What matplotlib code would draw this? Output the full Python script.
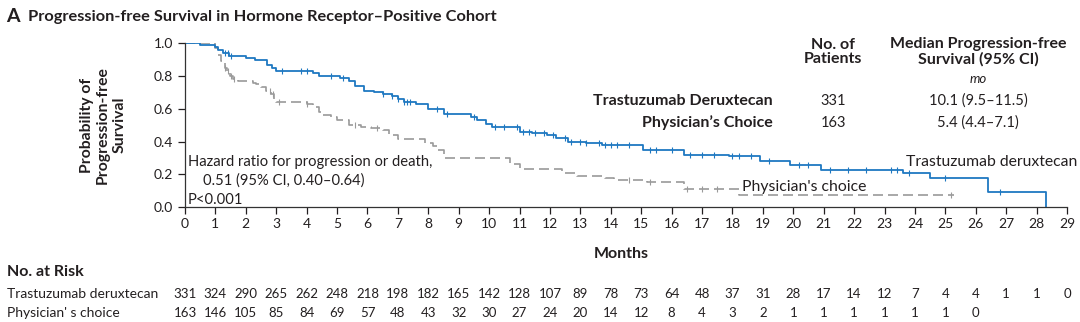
import numpy as np
import matplotlib
matplotlib.use("Agg")
import matplotlib.pyplot as plt
import matplotlib.transforms as mtransforms

plt.rcParams["font.family"] = ["Lato", "DejaVu Sans"]

# ─── Data ─────────────────────────────────────────────────────────────────────
months = np.arange(0, 30)

tdxd_t = [0, 0.5, 1.0, 1.1, 1.25, 1.45, 2.0, 2.3, 2.7, 2.85, 3.0, 4.2, 4.4, 5.1,
          5.4, 5.6, 5.9, 6.2, 6.5, 6.8, 7.0, 7.2, 7.6, 8.0, 8.5, 9.4, 9.6, 9.9,
          10.1, 11.0, 11.4, 11.9, 12.2, 12.6, 13.2, 13.7, 15.05, 16.4, 17.9,
          18.9, 19.9, 20.9, 23.6, 24.5, 26.4, 28.3]
tdxd_s = [1.0, 0.99, 0.98, 0.96, 0.94, 0.92, 0.91, 0.90, 0.87, 0.85, 0.83, 0.82,
          0.80, 0.79, 0.77, 0.74, 0.71, 0.70, 0.69, 0.68, 0.66, 0.64, 0.63, 0.60,
          0.57, 0.55, 0.53, 0.51, 0.49, 0.46, 0.45, 0.44, 0.42, 0.40, 0.39, 0.38,
          0.35, 0.32, 0.31, 0.28, 0.255, 0.227, 0.206, 0.176, 0.09, 0.0]
tdxd_cens = [1.3, 1.4, 1.5, 3.2, 3.8, 4.0, 4.8, 5.2, 6.5, 6.8, 7.0, 7.2, 7.3, 7.4,
             8.3, 8.6, 9.5, 10.2, 10.5, 10.9, 11.1, 11.3, 11.5, 11.8, 12.1, 12.5,
             12.7, 13.0, 13.2, 13.6, 13.8, 14.0, 14.2, 14.6, 15.3, 15.5, 16.0,
             16.6, 17.0, 17.4, 18.0, 18.2, 18.6, 19.2, 20.2, 20.5, 21.2, 21.8,
             22.4, 23.2, 23.4, 23.8, 25.0, 26.8]

pc_t = [0, 1.0, 1.1, 1.2, 1.3, 1.37, 1.48, 1.58, 1.74, 2.23, 2.35, 2.5, 2.67,
        2.84, 2.92, 3.0, 4.0, 4.2, 4.4, 4.5, 4.8, 5.0, 5.4, 5.8, 6.1, 6.5, 6.7,
        7.0, 7.9, 8.17, 8.3, 8.5, 10.7, 11.0, 12.4, 12.9, 13.8, 14.1, 15.2, 16.4,
        18.2, 25.3]
pc_s = [1.0, 0.97, 0.93, 0.89, 0.85, 0.83, 0.80, 0.78, 0.77, 0.76, 0.75, 0.73,
        0.71, 0.69, 0.66, 0.64, 0.63, 0.61, 0.58, 0.56, 0.55, 0.53, 0.50, 0.49,
        0.48, 0.47, 0.44, 0.415, 0.39, 0.37, 0.35, 0.30, 0.26, 0.23, 0.206, 0.19,
        0.18, 0.165, 0.15, 0.11, 0.074, 0.074]
pc_cens = [1.3, 1.4, 1.5, 1.6, 2.8, 2.9, 3.1, 4.0, 5.6, 6.3, 14.6, 15.3, 16.5,
           17.0, 17.5, 25.2]

risk_tdxd = [331, 324, 290, 265, 262, 248, 218, 198, 182, 165, 142, 128, 107, 89,
             78, 73, 64, 48, 37, 31, 28, 17, 14, 12, 7, 4, 4, 1, 1, 0]
risk_pc = [163, 146, 105, 85, 84, 69, 57, 48, 43, 32, 30, 27, 24, 20, 14, 12, 8,
           4, 3, 2, 1, 1, 1, 1, 1, 1, 0]

BLUE = "#1f78c1"
GRAY = "#9a9a9a"
TXT = "#231f20"
W, H = 1080, 322


def surv_at(t, times, surv):
    idx = np.searchsorted(times, t, side="right") - 1
    return np.asarray(surv)[idx]


def fx(px):
    return px / W


def fy(py):
    return 1 - py / H


# ─── Figure ───────────────────────────────────────────────────────────────────
fig = plt.figure(figsize=(W / 100, H / 100), dpi=100)
ax = fig.add_axes([fx(185), fy(207), fx(1067) - fx(185), fy(43.3) - fy(207)])

ax.step(pc_t, pc_s, where="post", color=GRAY, lw=1.2, dashes=(6, 3))
ax.step(tdxd_t, tdxd_s, where="post", color=BLUE, lw=1.3)
ax.plot(pc_cens, surv_at(pc_cens, pc_t, pc_s), ls="none", marker="|",
        ms=4.5, mew=0.8, color=GRAY)
ax.plot(tdxd_cens, surv_at(tdxd_cens, tdxd_t, tdxd_s), ls="none", marker="|",
        ms=4.5, mew=0.8, color=BLUE)

ax.set_xlim(0, 29)
ax.set_ylim(0, 1.0)
ax.set_xticks(months)
ax.set_yticks([0, 0.2, 0.4, 0.6, 0.8, 1.0])
ax.set_yticklabels(["0.0", "0.2", "0.4", "0.6", "0.8", "1.0"])
ax.tick_params(axis="both", labelsize=10, colors=TXT, length=5, width=0.9,
               direction="out")
ax.tick_params(axis="x", pad=3)
for s in ["top", "right"]:
    ax.spines[s].set_visible(False)
for s in ["left", "bottom"]:
    ax.spines[s].set_color("#333333")
    ax.spines[s].set_linewidth(0.9)

# curve labels
ax.text(18.3, 0.12, "Physician's choice", fontsize=11.3, color=TXT,
        va="center", ha="left")
ax.text(23.7, 0.275, "Trastuzumab deruxtecan", fontsize=11.3, color=TXT,
        va="center", ha="left")

# hazard ratio
ax.text(0.1, 0.276, "Hazard ratio for progression or death,", fontsize=10.6,
        color=TXT, va="center")
ax.text(0.6, 0.16, "0.51 (95% CI, 0.40–0.64)", fontsize=10.6, color=TXT,
        va="center")
ax.text(0.1, 0.043, "P<0.001", fontsize=10.6, color=TXT, va="center")

# axis labels
fig.text(fx(103), fy(125), "Probability of\nProgression-free\nSurvival",
         rotation=90, ha="center", va="center", fontsize=11.3,
         fontweight="bold", color=TXT, linespacing=1.2)
fig.text(fx(621), fy(254), "Months", ha="center", va="center", fontsize=11.5,
         fontweight="bold", color=TXT)

# title
fig.text(fx(6), fy(17), "A", fontsize=14, fontweight="bold", color=TXT,
         va="center")
fig.text(fx(28), fy(17), "Progression-free Survival in Hormone Receptor–Positive Cohort",
         fontsize=11.8, fontweight="bold", color=TXT, va="center")

# legend table
fig.text(fx(833), fy(52), "No. of\nPatients", ha="center", va="center",
         fontsize=11.5, fontweight="bold", color=TXT, linespacing=1.05)
fig.text(fx(978), fy(52), "Median Progression-free\nSurvival (95% CI)",
         ha="center", va="center", fontsize=11.5, fontweight="bold", color=TXT,
         linespacing=1.05)
fig.text(fx(978), fy(79), "mo", ha="center", va="center", fontsize=9.5,
         style="italic", color=TXT)
rows = [("Trastuzumab Deruxtecan", "331", "10.1 (9.5–11.5)", 101),
        ("Physician’s Choice", "163", "5.4 (4.4–7.1)", 123)]
for name, n, med, y in rows:
    fig.text(fx(773), fy(y), name, ha="right", va="center", fontsize=11.5,
             fontweight="bold", color=TXT)
    fig.text(fx(833), fy(y), n, ha="center", va="center", fontsize=10.5,
             color=TXT)
    fig.text(fx(978), fy(y), med, ha="center", va="center", fontsize=10.5,
             color=TXT)

# number at risk
trans = mtransforms.blended_transform_factory(ax.transData, fig.transFigure)
fig.text(fx(7), fy(272), "No. at Risk", fontsize=11.5, fontweight="bold",
         color=TXT, va="center")
fig.text(fx(7), fy(294), "Trastuzumab deruxtecan", fontsize=10, color=TXT,
         va="center")
fig.text(fx(7), fy(313), "Physician' s choice", fontsize=10, color=TXT,
         va="center")
for m, v in zip(months, risk_tdxd):
    ax.text(m, fy(294), str(v), transform=trans, ha="center", va="center",
            fontsize=9.5, color=TXT, clip_on=False)
for m, v in zip(months, risk_pc):
    ax.text(m, fy(313), str(v), transform=trans, ha="center", va="center",
            fontsize=9.5, color=TXT, clip_on=False)

fig.savefig("out.png", dpi=100)
